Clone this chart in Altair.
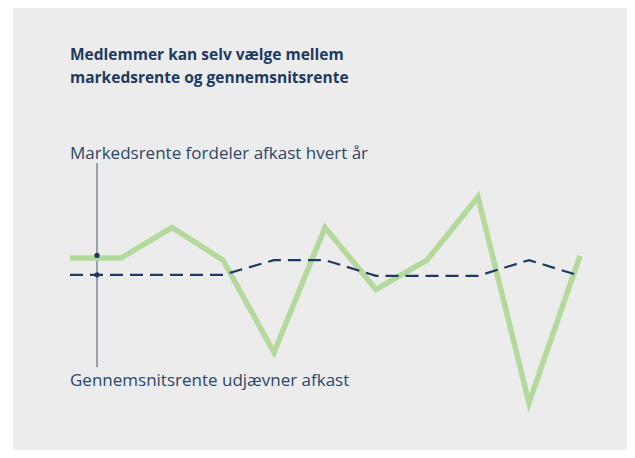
import altair as alt
import pandas as pd

# Years (index) and schematic annual returns (%)
years = list(range(11))
markedsrente = [4.0, 4.0, 6.9, 3.8, -5.0, 6.9, 1.0, 3.8, 9.8, -9.8, 4.2]
gennemsnitsrente = [2.4, 2.4, 2.4, 2.4, 3.8, 3.8, 2.3, 2.3, 2.3, 3.8, 2.3]

title_lines = ["Medlemmer kan selv vælge mellem", "markedsrente og gennemsnitsrente"]
label_top = "Markedsrente fordeler afkast hvert år"
label_bottom = "Gennemsnitsrente udjævner afkast"

NAVY = "#1d3b62"
GREEN = "#b3d99c"
BG = "#ececec"

x_scale = alt.Scale(domain=[0, 10], range=[57, 567])
y_scale = alt.Scale(domain=[-10, 10], range=[397, 187])

df_m = pd.DataFrame({"year": years, "value": markedsrente})
df_g = pd.DataFrame({"year": years, "value": gennemsnitsrente})

green = alt.Chart(df_m).mark_line(color=GREEN, strokeWidth=5.5, strokeJoin="miter", strokeCap="butt").encode(
    x=alt.X("year:Q", scale=x_scale, axis=None),
    y=alt.Y("value:Q", scale=y_scale, axis=None),
)

dashed = alt.Chart(df_g).mark_line(color=NAVY, strokeWidth=2.2, strokeDash=[13, 7]).encode(
    x=alt.X("year:Q", scale=x_scale, axis=None),
    y=alt.Y("value:Q", scale=y_scale, axis=None),
)

ann_x = 0.53
rule_df = pd.DataFrame({"x": [ann_x], "y1": [13.05], "y2": [-6.4]})
rule = alt.Chart(rule_df).mark_rule(color="#5b6d86", strokeWidth=1.2).encode(
    x=alt.X("x:Q", scale=x_scale, axis=None),
    y=alt.Y("y1:Q", scale=y_scale, axis=None),
    y2="y2:Q",
)

dots_df = pd.DataFrame({"x": [ann_x, ann_x], "y": [4.25, 2.4]})
dots = alt.Chart(dots_df).mark_circle(color=NAVY, opacity=1, size=28).encode(
    x=alt.X("x:Q", scale=x_scale, axis=None),
    y=alt.Y("y:Q", scale=y_scale, axis=None),
)

title_df = pd.DataFrame({"x": [0, 0], "y": [22.86, 20.67], "t": title_lines})
title = alt.Chart(title_df).mark_text(
    align="left", baseline="alphabetic", font="Open Sans", fontSize=15.5, fontWeight="bold", color=NAVY
).encode(
    x=alt.X("x:Q", scale=x_scale, axis=None),
    y=alt.Y("y:Q", scale=y_scale, axis=None),
    text="t:N",
)

labels_df = pd.DataFrame({"x": [0, 0], "y": [13.4, -8.19], "t": [label_top, label_bottom]})
labels = alt.Chart(labels_df).mark_text(
    align="left", baseline="alphabetic", font="Open Sans", fontSize=17, color="#2b4769"
).encode(
    x=alt.X("x:Q", scale=x_scale, axis=None),
    y=alt.Y("y:Q", scale=y_scale, axis=None),
    text="t:N",
)

chart = alt.layer(rule, green, dashed, dots, title, labels).properties(
    width=614,
    height=442,
    padding={"left": 5, "top": 0, "right": 0, "bottom": 0},
    autosize=alt.AutoSizeParams(type="none"),
    background="white",
).configure_view(fill=BG, stroke=None)

chart.save("out.html", embed_options={"renderer": "svg", "actions": False})
